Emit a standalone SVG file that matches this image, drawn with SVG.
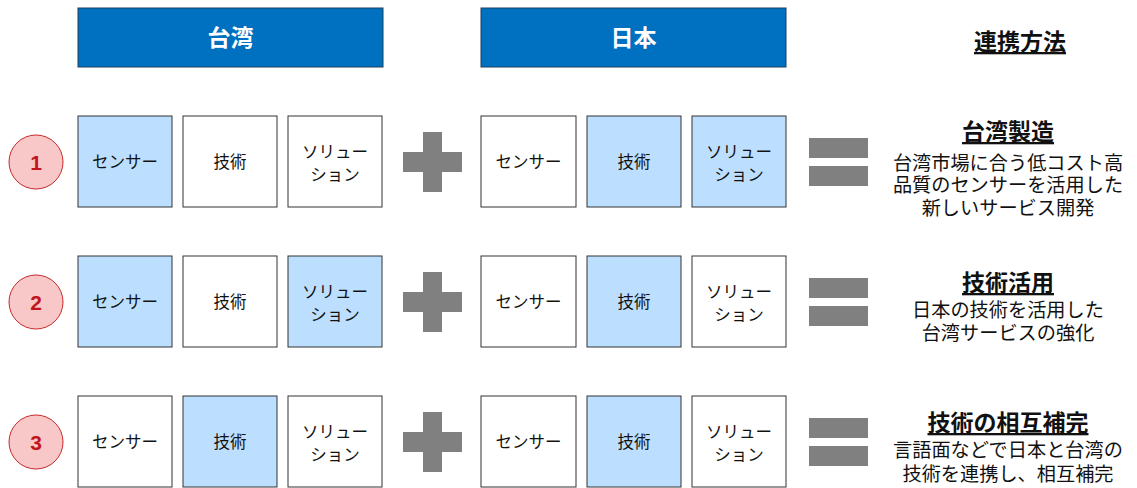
<svg xmlns="http://www.w3.org/2000/svg" width="1137" height="488" viewBox="0 0 1137 488">
<style>
.hdr{fill:#0070c0;stroke:#1f3f5f;stroke-width:1}
.ht{font-family:"Liberation Sans","Noto Sans CJK JP",sans-serif;font-size:23px;font-weight:bold;fill:#fff;text-anchor:middle}
.box{stroke:#333;stroke-width:1}
.on{fill:#bddfff}
.off{fill:#fff}
.bt{font-family:"Liberation Sans","Noto Sans CJK JP",sans-serif;font-size:16.5px;fill:#111;text-anchor:middle}
.num{fill:#f8c8c8;stroke:#c8282c;stroke-width:1}
.nt{font-family:"Liberation Sans","Noto Sans CJK JP",sans-serif;font-size:21px;font-weight:bold;fill:#c0151b;text-anchor:middle}
.op{fill:#808080}
.tt{font-family:"Liberation Sans","Noto Sans CJK JP",sans-serif;font-size:23px;font-weight:bold;fill:#111;text-anchor:middle;text-decoration:underline}
.dt{font-family:"Liberation Sans","Noto Sans CJK JP",sans-serif;font-size:19.2px;fill:#111;text-anchor:middle}
</style>
<g id="header-taiwan"><rect class="hdr" x="78" y="8" width="305" height="59"/><text class="ht" x="230.5" y="46">台湾</text></g>
<g id="header-japan"><rect class="hdr" x="481" y="8" width="305" height="59"/><text class="ht" x="633.5" y="46">日本</text></g>
<g id="header-method"><text class="tt" x="1020" y="50">連携方法</text></g>

<!-- Row 1 -->
<g id="num1"><circle class="num" cx="36" cy="162" r="27"/><text class="nt" x="36" y="169.5">1</text></g>
<g id="r1-tw-sensor"><rect class="box on" x="78" y="116" width="94" height="91"/><text class="bt" x="125" y="168">センサー</text></g>
<g id="r1-tw-tech"><rect class="box off" x="183" y="116" width="94" height="91"/><text class="bt" x="230" y="168">技術</text></g>
<g id="r1-tw-sol"><rect class="box off" x="288" y="116" width="94" height="91"/><text class="bt" x="335" y="158">ソリュー</text><text class="bt" x="335" y="181">ション</text></g>
<g id="r1-plus"><rect class="op" x="403" y="152" width="59" height="20"/><rect class="op" x="423" y="132" width="19" height="60"/></g>
<g id="r1-jp-sensor"><rect class="box off" x="481" y="116" width="95" height="91"/><text class="bt" x="528.5" y="168">センサー</text></g>
<g id="r1-jp-tech"><rect class="box on" x="587" y="116" width="94" height="91"/><text class="bt" x="634" y="168">技術</text></g>
<g id="r1-jp-sol"><rect class="box on" x="692" y="116" width="94" height="91"/><text class="bt" x="739" y="158">ソリュー</text><text class="bt" x="739" y="181">ション</text></g>
<g id="r1-eq"><rect class="op" x="809" y="138" width="59" height="20"/><rect class="op" x="809" y="166" width="59" height="20"/></g>
<g id="r1-method"><text class="tt" x="1008" y="140">台湾製造</text><text class="dt" x="1008" y="170">台湾市場に合う低コスト高</text><text class="dt" x="1008" y="192">品質のセンサーを活用した</text><text class="dt" x="1008" y="215">新しいサービス開発</text></g>

<!-- Row 2 -->
<g id="num2"><circle class="num" cx="36" cy="302" r="27"/><text class="nt" x="36" y="309.5">2</text></g>
<g id="r2-tw-sensor"><rect class="box on" x="78" y="256" width="94" height="91"/><text class="bt" x="125" y="308">センサー</text></g>
<g id="r2-tw-tech"><rect class="box off" x="183" y="256" width="94" height="91"/><text class="bt" x="230" y="308">技術</text></g>
<g id="r2-tw-sol"><rect class="box on" x="288" y="256" width="94" height="91"/><text class="bt" x="335" y="298">ソリュー</text><text class="bt" x="335" y="321">ション</text></g>
<g id="r2-plus"><rect class="op" x="403" y="292" width="59" height="20"/><rect class="op" x="423" y="272" width="19" height="60"/></g>
<g id="r2-jp-sensor"><rect class="box off" x="481" y="256" width="95" height="91"/><text class="bt" x="528.5" y="308">センサー</text></g>
<g id="r2-jp-tech"><rect class="box on" x="587" y="256" width="94" height="91"/><text class="bt" x="634" y="308">技術</text></g>
<g id="r2-jp-sol"><rect class="box off" x="692" y="256" width="94" height="91"/><text class="bt" x="739" y="298">ソリュー</text><text class="bt" x="739" y="321">ション</text></g>
<g id="r2-eq"><rect class="op" x="809" y="278" width="59" height="20"/><rect class="op" x="809" y="306" width="59" height="20"/></g>
<g id="r2-method"><text class="tt" x="1008" y="291">技術活用</text><text class="dt" x="1008" y="317">日本の技術を活用した</text><text class="dt" x="1008" y="340">台湾サービスの強化</text></g>

<!-- Row 3 -->
<g id="num3"><circle class="num" cx="36" cy="442" r="27"/><text class="nt" x="36" y="449.5">3</text></g>
<g id="r3-tw-sensor"><rect class="box off" x="78" y="396" width="94" height="91"/><text class="bt" x="125" y="448">センサー</text></g>
<g id="r3-tw-tech"><rect class="box on" x="183" y="396" width="94" height="91"/><text class="bt" x="230" y="448">技術</text></g>
<g id="r3-tw-sol"><rect class="box off" x="288" y="396" width="94" height="91"/><text class="bt" x="335" y="438">ソリュー</text><text class="bt" x="335" y="461">ション</text></g>
<g id="r3-plus"><rect class="op" x="403" y="432" width="59" height="20"/><rect class="op" x="423" y="412" width="19" height="60"/></g>
<g id="r3-jp-sensor"><rect class="box off" x="481" y="396" width="95" height="91"/><text class="bt" x="528.5" y="448">センサー</text></g>
<g id="r3-jp-tech"><rect class="box on" x="587" y="396" width="94" height="91"/><text class="bt" x="634" y="448">技術</text></g>
<g id="r3-jp-sol"><rect class="box off" x="692" y="396" width="94" height="91"/><text class="bt" x="739" y="438">ソリュー</text><text class="bt" x="739" y="461">ション</text></g>
<g id="r3-eq"><rect class="op" x="809" y="418" width="59" height="20"/><rect class="op" x="809" y="446" width="59" height="20"/></g>
<g id="r3-method"><text class="tt" x="1008" y="431">技術の相互補完</text><text class="dt" x="1008" y="457">言語面などで日本と台湾の</text><text class="dt" x="1008" y="481">技術を連携し、相互補完</text></g>
<g id="connectors"/>
</svg>
